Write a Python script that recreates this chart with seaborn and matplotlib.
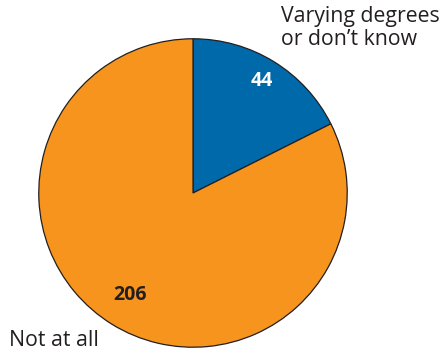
import numpy as np
import matplotlib
matplotlib.use("Agg")
import matplotlib.pyplot as plt
import seaborn as sns

categories = ["Varying degrees\nor don\u2019t know", "Not at all"]
values = [44, 206]
colors = ["#0069a9", "#f7941d"]
value_colors = ["white", "#231f20"]
value_dist = [0.85, 0.78]

sns.set_theme(style="white")
plt.rcParams['font.family'] = ['Open Sans', 'DejaVu Sans']

W, H = 442, 358
fig = plt.figure(figsize=(W / 100, H / 100), dpi=100)
cx, cy, r = 193, 193, 155
ax = fig.add_axes([(cx - r) / W, (H - cy - r) / H, 2 * r / W, 2 * r / H])
wedges, _ = ax.pie(values, colors=colors, startangle=90, counterclock=False,
                   radius=1.0,
                   wedgeprops=dict(edgecolor="#231f20", linewidth=0.9))
ax.set_xlim(-1.005, 1.005)
ax.set_ylim(-1.005, 1.005)
ax.set_aspect("equal")
ax.axis("off")

for w, v, c, d in zip(wedges, values, value_colors, value_dist):
    ang = np.deg2rad((w.theta1 + w.theta2) / 2)
    ax.text(d * np.cos(ang), d * np.sin(ang), str(v), color=c,
            fontsize=14, fontweight="bold", ha="center", va="center")

fig.text(281 / W, 1 - 6 / H, categories[0], fontsize=15.3, color="#231f20",
         ha="left", va="top", linespacing=1.12)
fig.text(9 / W, 1 - 340 / H, categories[1], fontsize=15.3, color="#231f20",
         ha="left", va="center")

fig.savefig("out.png", dpi=100)
